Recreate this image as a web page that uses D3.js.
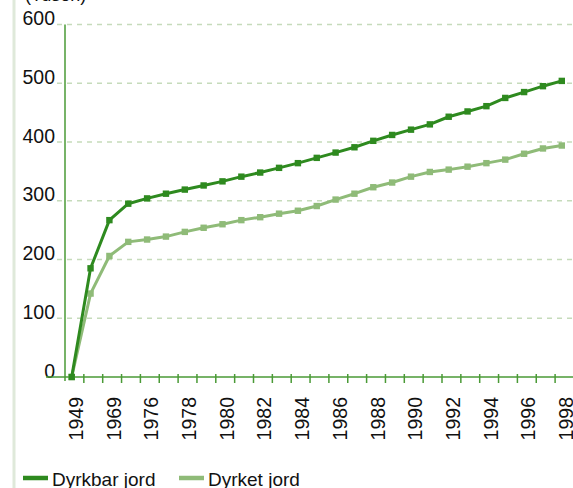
<!DOCTYPE html>
<html>
<head>
<meta charset="utf-8">
<script src="https://cdn.jsdelivr.net/npm/d3@7/dist/d3.min.js"></script>
<style>
html,body{margin:0;padding:0;background:#fff;}
svg{display:block;font-family:"Liberation Sans",Arial,sans-serif;}
</style>
</head>
<body>
<svg id="chart" width="573" height="488"></svg>
<script>
const categories = ["1949","1959","1969","1973","1976","1977","1978","1979","1980","1981","1982","1983","1984","1985","1986","1987","1988","1989","1990","1991","1992","1993","1994","1995","1996","1997","1998"];
const dyrkbar = [0,185,267,295,304,312,319,326,333,341,348,356,364,373,382,391,402,412,421,430,443,452,461,475,485,495,504];
const dyrket  = [0,142,206,230,234,239,247,254,260,267,272,278,283,291,302,312,323,331,341,349,353,358,364,370,380,389,394];
const yTicks = [0,100,200,300,400,500,600];
const seriesNames = ["Dyrkbar jord","Dyrket jord"];
const unitLabel = "(Tusen)";

const colors = ["#2e8a1f","#8fbb78"];
const svg = d3.select("#chart");

const x0 = 65, step = 18.85;
const x = d3.scaleBand().domain(categories).range([x0, x0 + step*categories.length]).padding(0);
const y = d3.scaleLinear().domain([0,600]).range([377, 24.5]);
const px = d => x(d) + 6.7;

// left stripe
svg.append("rect").attr("x",12.5).attr("y",0).attr("width",3).attr("height",488).attr("fill","#dfe9da");

// unit label (cut at top)
svg.append("text").attr("x",25).attr("y",1).attr("font-size",18).attr("fill","#111").text(unitLabel);

// gridlines
svg.append("g").selectAll("line").data(yTicks.filter(t=>t>0)).join("line")
  .attr("x1",57).attr("x2",573)
  .attr("y1",d=>y(d)).attr("y2",d=>y(d))
  .attr("stroke","#c6dbbb").attr("stroke-width",1.5).attr("stroke-dasharray","5,5");

// y labels
svg.append("g").selectAll("text").data(yTicks).join("text")
  .attr("x",55).attr("y",d=>y(d)+0.5).attr("text-anchor","end")
  .attr("font-size",19.5).attr("fill","#111").text(d=>d);

// x axis line
svg.append("line").attr("x1",46).attr("x2",573).attr("y1",y(0)).attr("y2",y(0))
  .attr("stroke","#4a9a36").attr("stroke-width",1.5);
// y axis line
svg.append("line").attr("x1",x0).attr("x2",x0).attr("y1",y(600)).attr("y2",y(0)+4)
  .attr("stroke","#4a9a36").attr("stroke-width",1.5);

// ticks at category boundaries
svg.append("g").selectAll("line").data(categories.slice(1)).join("line")
  .attr("x1",d=>x(d)).attr("x2",d=>x(d))
  .attr("y1",y(0)-3).attr("y2",y(0)+6)
  .attr("stroke","#4a9a36").attr("stroke-width",1.5);

// x labels (every other)
svg.append("g").selectAll("text").data(categories.filter((d,i)=>i%2===0)).join("text")
  .attr("transform",d=>`translate(${x(d)+x.bandwidth()/2+1.5},397) rotate(-90)`)
  .attr("text-anchor","end").attr("dy","0.36em")
  .attr("font-size",19.5).attr("fill","#111").text(d=>d);

// series
const data = [dyrkbar, dyrket];
const line = d3.line().x((d,i)=>px(categories[i])).y(d=>y(d));
[1,0].forEach(s=>{
  svg.append("path").datum(data[s]).attr("d",line)
    .attr("fill","none").attr("stroke",colors[s]).attr("stroke-width",3).attr("stroke-linejoin","round");
  svg.append("g").selectAll("rect").data(data[s]).join("rect")
    .attr("x",(d,i)=>px(categories[i])-3.2).attr("y",d=>y(d)-3.2)
    .attr("width",6.4).attr("height",6.4).attr("fill",colors[s]);
});

// legend
const leg = [{x:23,tx:52},{x:179,tx:208}];
seriesNames.forEach((n,i)=>{
  svg.append("line").attr("x1",leg[i].x).attr("x2",leg[i].x+25).attr("y1",478).attr("y2",478)
    .attr("stroke",colors[i]).attr("stroke-width",4.5);
  svg.append("text").attr("x",leg[i].tx).attr("y",485.5).attr("font-size",19).attr("fill","#111").text(n);
});
</script>
</body>
</html>
